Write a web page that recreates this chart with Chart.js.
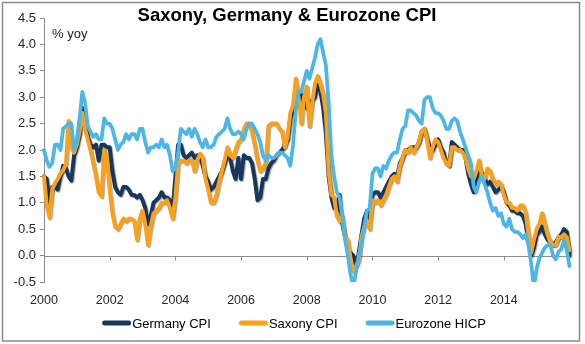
<!DOCTYPE html>
<html>
<head>
<meta charset="utf-8">
<script src="https://cdn.jsdelivr.net/npm/chart.js@4.4.1/dist/chart.umd.min.js"></script>
<style>
  html, body { margin: 0; padding: 0; background: #ffffff; }
  #wrap { width: 585px; height: 344px; position: relative; }
</style>
</head>
<body>
<div id="wrap"><canvas id="cpi"></canvas></div>
<script>
// Monthly inflation, % year on year, January 2000 onwards
const startYear = 2000;
const yearTicks = ['2000', '2002', '2004', '2006', '2008', '2010', '2012', '2014'];
const tickEvery = 24; // one year label every two years of months

const germanyCPI = [
  1.5, 1.45, 1.0, 1.3, 1.3, 1.25, 1.5, 1.7, 1.65, 1.5, 1.42, 1.9,
  2.05, 2.3, 2.8, 2.55, 2.25, 2.1, 2.05, 2.1, 1.8, 2.1, 2.1, 2.05,
  2.05, 1.6, 1.3, 1.2, 1.15, 1.3, 1.3, 1.25, 1.15, 1.15, 1.1, 1.15,
  1.05, 0.9, 0.6, 0.75, 1.0, 1.05, 1.1, 1.2, 1.1, 1.1, 1.05, 0.85,
  1.5, 2.1, 2.1, 1.9, 1.85, 1.9, 1.95, 1.85, 1.9, 1.9, 1.7, 1.5,
  1.4, 1.25, 1.3, 1.4, 1.5, 1.6, 1.75, 1.9, 1.85, 1.6, 1.45, 1.85,
  1.45, 1.9, 1.85, 1.85, 1.75, 1.45, 1.05, 1.1, 1.45, 1.45, 1.65, 1.75,
  1.8, 1.9, 1.95, 2.0, 2.1, 2.2, 2.6, 2.75, 2.85, 2.9, 3.05, 2.95,
  2.8, 2.75, 2.95, 3.0, 3.25, 3.1, 2.8, 2.3, 1.5, 1.1, 0.9, 0.85,
  1.15, 0.6, 0.35, 0.1, 0.05, 0.0, -0.2, 0.05, 0.4, 0.7, 0.85, 0.7,
  1.15, 1.2, 1.2, 1.1, 1.2, 1.3, 1.4, 1.5, 1.55, 1.5, 1.75, 1.85,
  2.0, 2.0, 2.05, 2.05, 2.05, 2.15, 2.35, 2.4, 2.2, 2.05, 2.0, 2.1,
  2.2, 2.05, 1.95, 1.75, 1.7, 2.15, 2.1, 2.05, 2.0, 2.0, 1.85, 1.55,
  1.35, 1.2, 1.45, 1.65, 1.55, 1.45, 1.35, 1.4, 1.3, 1.2, 1.25, 1.3,
  1.2, 1.0, 0.95, 0.85, 0.85, 0.8, 0.8, 0.75, 0.6, 0.25, 0.0, 0.15,
  0.4, 0.45, 0.55, 0.4, 0.3, 0.25, 0.2, 0.25, 0.35, 0.4, 0.5, 0.45,
  0.0
];

const saxonyCPI = [
  1.5, 0.95, 0.72, 1.25, 1.37, 1.45, 1.55, 1.62, 1.72, 2.55, 2.05, 1.95,
  2.1, 2.35, 2.7, 2.4, 2.2, 2.0, 1.75, 1.5, 1.2, 1.12, 2.0, 1.85,
  1.25, 0.8, 0.55, 0.5, 0.6, 0.7, 0.65, 0.7, 0.7, 0.65, 0.3, 0.7,
  0.85, 0.6, 0.2, 0.55, 0.8, 0.85, 0.9, 1.0, 1.0, 1.05, 0.9, 0.7,
  1.1, 1.75, 1.8, 1.8, 1.75, 1.8, 1.8, 1.6, 1.8, 1.93, 1.85, 1.45,
  1.25, 1.0, 1.0, 1.15, 1.4, 1.6, 1.8, 2.05, 1.9, 1.85, 2.0, 2.15,
  2.2, 2.4, 2.5, 2.5, 2.35, 2.1, 1.8, 1.6, 1.65, 1.75, 2.45, 2.5,
  2.5, 2.5, 2.4, 2.35, 2.05, 2.25, 2.7, 2.85, 3.35, 3.0, 2.5, 3.0,
  3.2, 2.45, 2.9, 3.25, 3.4, 3.25, 3.05, 2.7, 1.6, 1.15, 1.1, 0.75,
  0.65, 0.75, 0.35, 0.3, -0.05, -0.3, -0.2, -0.1, 0.35, 0.55, 0.65, 0.5,
  1.05, 1.0, 1.05, 0.95, 1.05, 1.15, 1.3, 1.45, 1.5, 1.4, 1.7, 1.85,
  2.0, 1.95, 2.05, 1.95, 2.05, 2.15, 2.35, 2.4, 2.2, 1.85, 2.05, 2.2,
  2.15, 2.0, 1.85, 1.75, 1.7, 2.05, 2.05, 2.0, 2.0, 1.95, 1.85, 1.65,
  1.5, 1.45, 1.6, 1.8, 1.5, 1.45, 1.65, 1.6, 1.45, 1.35, 1.4, 1.35,
  1.15, 1.0, 1.0, 0.9, 0.9, 0.85, 0.95, 0.95, 0.8, 0.4, 0.05, 0.3,
  0.5, 0.6, 0.8, 0.6, 0.4, 0.25, 0.2, 0.2, 0.35, 0.35, 0.4, 0.35,
  0.1
];

const eurozoneHICP = [
  2.0, 1.8, 1.68, 1.75, 2.1, 2.1, 2.0, 2.4, 2.45, 2.5, 2.5, 2.0,
  2.2, 2.6, 3.1, 2.9, 2.45, 2.35, 2.25, 2.3, 2.2, 2.2, 2.6, 2.5,
  2.5, 2.4, 2.2, 2.0, 2.1, 2.15, 2.3, 2.2, 2.3, 2.3, 2.2, 2.4,
  2.4, 2.15, 1.95, 2.05, 2.05, 2.1, 2.05, 2.2, 2.05, 2.1, 1.9, 1.6,
  1.65, 1.95, 2.4, 2.35, 2.3, 2.4, 2.25, 2.4, 2.3, 2.15, 2.05, 2.2,
  2.05, 2.05, 2.1, 2.25, 2.3, 2.35, 2.4, 2.6, 2.4, 2.3, 2.3, 2.35,
  2.3, 2.2, 2.4, 2.5, 2.5, 2.4, 2.3, 2.15, 1.9, 1.8, 1.9, 1.85,
  1.85, 1.9, 1.95, 1.95, 1.9, 1.85, 1.7, 2.1, 2.75, 3.1, 3.1, 3.3,
  3.5, 3.35, 3.55, 3.75, 4.0, 4.1, 3.85, 3.6, 2.9, 1.9, 1.5, 1.2,
  1.1, 0.75, 0.3, 0.0, -0.35, -0.6, -0.3, 0.0, 0.2, 0.55, 0.85, 0.9,
  1.55, 1.65, 1.65, 1.5, 1.7, 1.65, 1.8, 1.9, 1.95, 1.95, 2.2, 2.4,
  2.45, 2.75, 2.75, 2.7, 2.65, 2.55, 2.5, 2.95, 3.0, 3.0, 2.8, 2.7,
  2.7, 2.65, 2.55, 2.4, 2.4, 2.55, 2.6, 2.55, 2.35, 2.2, 2.05, 1.9,
  1.75, 1.3, 1.2, 1.4, 1.5, 1.35, 1.2, 1.0, 0.85, 0.9, 0.75, 0.8,
  0.6, 0.55, 0.7, 0.5, 0.45, 0.45, 0.4, 0.33, 0.4, 0.2, -0.15, -0.6,
  -0.25, -0.05, 0.05, 0.15, 0.2, 0.2, 0.0, -0.07, 0.07, 0.12, 0.3, 0.1,
  -0.2
];

const seriesNames = ['Germany CPI', 'Saxony CPI', 'Eurozone HICP'];
const seriesColors = ['#17375E', '#F9A11B', '#4DB6E6'];

// Month categories (YYYY-MM) along the horizontal axis
const months = germanyCPI.map((_, i) =>
  `${startYear + Math.floor(i / 12)}-${String(i % 12 + 1).padStart(2, '0')}`);

const FONT = '"Liberation Sans", Arial, Helvetica, sans-serif';
const AXIS_GREY = '#8c8c8c';

// Horizontal zero line with small tick marks under it
const zeroLine = {
  id: 'zeroLine',
  beforeDatasetsDraw(chart) {
    const { ctx, chartArea, scales } = chart;
    const y0 = Math.round(scales.y.getPixelForValue(0)) + 0.5;
    ctx.save();
    ctx.strokeStyle = AXIS_GREY;
    ctx.lineWidth = 1;
    ctx.beginPath();
    ctx.moveTo(chartArea.left, y0);
    ctx.lineTo(chartArea.right, y0);
    for (let i = tickEvery; i < months.length - 1; i += tickEvery) {
      const x = Math.round(scales.x.getPixelForValue(i)) + 0.5;
      ctx.moveTo(x, y0);
      ctx.lineTo(x, y0 + 4);
    }
    ctx.stroke();
    ctx.restore();
  }
};

// Soft drop shadow under the two German series
const lineShadow = {
  id: 'lineShadow',
  beforeDatasetDraw(chart, args) {
    if (args.index > 1) return;
    const ctx = chart.ctx;
    ctx.save();
    ctx.shadowColor = 'rgba(0,0,0,0.35)';
    ctx.shadowOffsetX = 1;
    ctx.shadowOffsetY = 1;
    ctx.shadowBlur = 1;
  },
  afterDatasetDraw(chart, args) {
    if (args.index > 1) return;
    chart.ctx.restore();
  }
};

// Title, unit label, legend and outer frame
const decorations = {
  id: 'decorations',
  afterDraw(chart) {
    const ctx = chart.ctx;
    ctx.save();

    ctx.strokeStyle = '#8a8a8a';
    ctx.lineWidth = 1.5;
    ctx.strokeRect(2.5, 2.5, 577, 338.5);

    ctx.fillStyle = '#000000';
    ctx.textBaseline = 'alphabetic';
    ctx.textAlign = 'center';
    ctx.font = `bold 18.5px ${FONT}`;
    ctx.fillText('Saxony, Germany & Eurozone CPI', 287, 20.5);

    ctx.textAlign = 'left';
    ctx.font = `13px ${FONT}`;
    ctx.fillStyle = '#1a1a1a';
    ctx.fillText('% yoy', 52, 38);

    // legend row
    const lineLen = 29, gap = 1, itemGap = 28, yMid = 323;
    const widths = seriesNames.map(n => ctx.measureText(n).width);
    const total = widths.reduce((s, w) => s + lineLen + gap + w, 0) + itemGap * (seriesNames.length - 1);
    let x = 294 - total / 2;
    ctx.lineCap = 'round';
    ctx.lineWidth = 5;
    seriesNames.forEach((name, i) => {
      ctx.strokeStyle = seriesColors[i];
      ctx.beginPath();
      ctx.moveTo(x + 2.5, yMid);
      ctx.lineTo(x + lineLen - 2.5, yMid);
      ctx.stroke();
      ctx.fillStyle = '#000000';
      ctx.fillText(name, x + lineLen + gap, yMid + 4.5);
      x += lineLen + gap + widths[i] + itemGap;
    });
    ctx.restore();
  }
};

const seriesData = [germanyCPI, saxonyCPI, eurozoneHICP];
const widths = [4, 4, 3.75];
const drawOrder = [3, 2, 1]; // Eurozone on top, Saxony over Germany

new Chart(document.getElementById('cpi'), {
  type: 'line',
  data: {
    labels: months,
    datasets: seriesData.map((d, i) => ({
      label: seriesNames[i],
      data: d,
      borderColor: seriesColors[i],
      backgroundColor: seriesColors[i],
      borderWidth: widths[i],
      pointRadius: 0,
      tension: 0,
      borderJoinStyle: 'round',
      borderCapStyle: 'round',
      order: drawOrder[i],
      clip: { left: 4, top: 4, right: 4, bottom: 0 }
    }))
  },
  options: {
    responsive: true,
    maintainAspectRatio: false,
    animation: false,
    devicePixelRatio: 1,
    layout: { padding: { top: 18, right: 15.5, bottom: 32, left: 0 } },
    plugins: {
      legend: { display: false },
      title: { display: false },
      tooltip: { enabled: false }
    },
    scales: {
      x: {
        type: 'category',
        offset: false,
        grid: { display: false, drawTicks: false },
        border: { display: false },
        ticks: {
          autoSkip: false,
          maxRotation: 0,
          minRotation: 0,
          padding: 11,
          color: '#262626',
          font: { family: FONT, size: 12.5 },
          callback: (v, i) => (i % tickEvery === 0 ? (yearTicks[i / tickEvery] ?? '') : '')
        },
        afterFit: s => { s.height = 30; }
      },
      y: {
        min: -0.5,
        max: 4.5,
        ticks: {
          stepSize: 0.5,
          padding: 4,
          color: '#262626',
          font: { family: FONT, size: 13 },
          callback: v => Number(v).toFixed(1)
        },
        grid: { display: true, drawOnChartArea: false, drawTicks: true, tickLength: 4, color: AXIS_GREY },
        border: { display: true, color: AXIS_GREY, width: 1 },
        afterFit: s => { s.width = 44; }
      }
    }
  },
  plugins: [zeroLine, lineShadow, decorations]
});
</script>
</body>
</html>
